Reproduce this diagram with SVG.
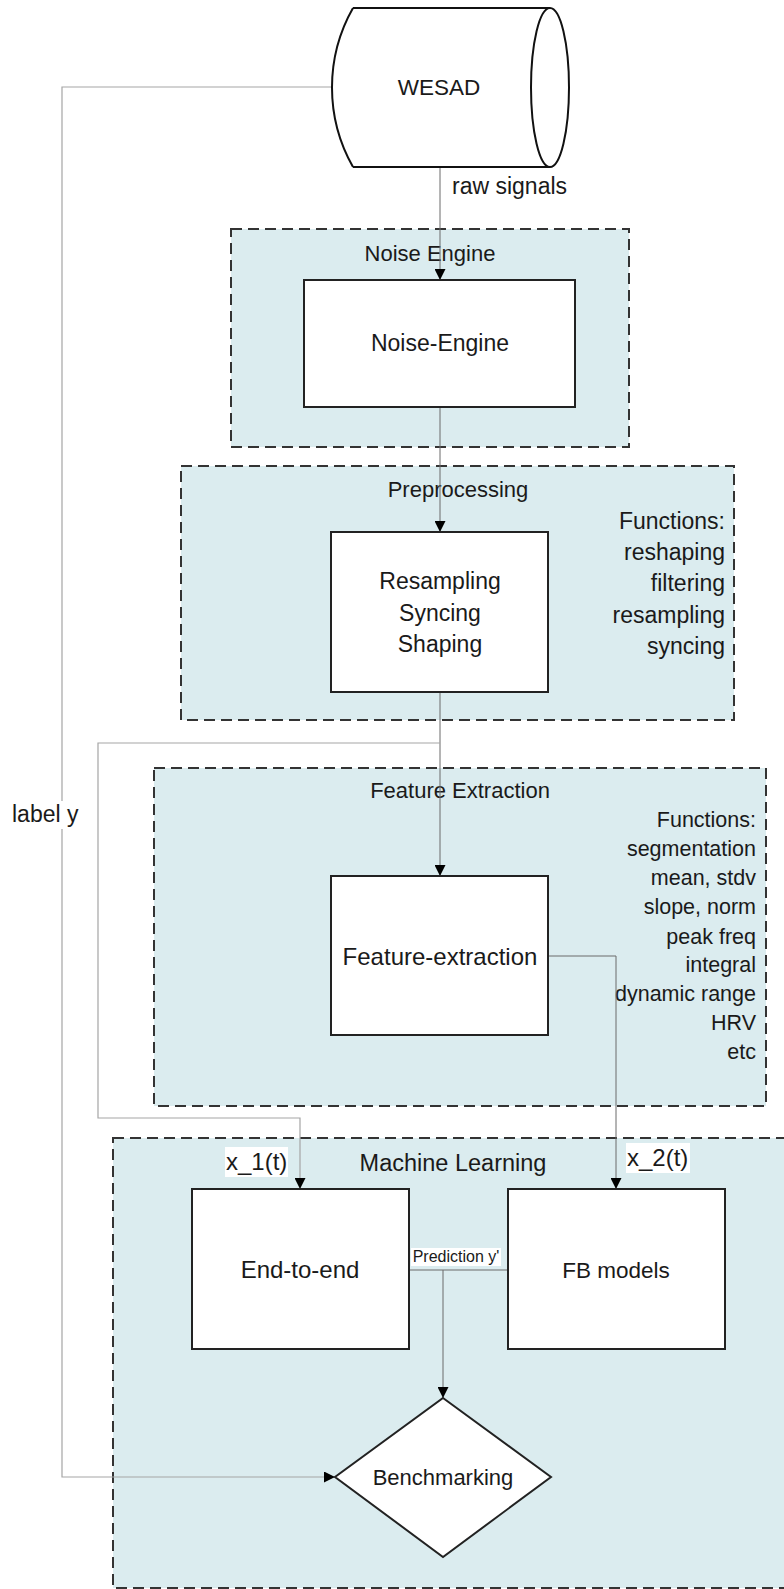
<svg xmlns="http://www.w3.org/2000/svg" width="784" height="1589" viewBox="0 0 784 1589">
<defs>
<marker id="arr" markerWidth="11" markerHeight="11" refX="11" refY="5.5" orient="auto" markerUnits="userSpaceOnUse">
<path d="M0,0 L11,5.5 L0,11 z" fill="#000"/>
</marker>
<style>
.t{font-family:"Liberation Sans",Arial,sans-serif;fill:#1a1a1a}
.c{text-anchor:middle}
.r{text-anchor:end}
.cont{fill:#dbecef;stroke:#333;stroke-width:2;stroke-dasharray:11,6}
.box{fill:#fff;stroke:#222;stroke-width:2}
.ln{fill:none;stroke:#6a6a6a;stroke-width:1}
.lt{fill:none;stroke:#a5a5a5;stroke-width:1.2}
.bg{fill:#fff}
</style>
</defs>
<rect width="784" height="1589" fill="#fff"/>

<g id="noise-engine-group">
<rect class="cont" x="231" y="229" width="398" height="218"/>
<text class="t c" x="430" y="261" font-size="22">Noise Engine</text>
</g>
<g id="preprocessing-group">
<rect class="cont" x="181" y="466" width="553" height="254"/>
<text class="t c" x="458" y="497" font-size="22">Preprocessing</text>
<text class="t r" x="725" y="529" font-size="23">Functions:</text>
<text class="t r" x="725" y="560" font-size="23">reshaping</text>
<text class="t r" x="725" y="591" font-size="23">filtering</text>
<text class="t r" x="725" y="623" font-size="23">resampling</text>
<text class="t r" x="725" y="654" font-size="23">syncing</text>
</g>
<g id="feature-extraction-group">
<rect class="cont" x="154" y="768" width="612" height="338"/>
<text class="t c" x="460" y="798" font-size="22">Feature Extraction</text>
<text class="t r" x="756" y="827" font-size="21.5">Functions:</text>
<text class="t r" x="756" y="856" font-size="21.5">segmentation</text>
<text class="t r" x="756" y="885" font-size="21.5">mean, stdv</text>
<text class="t r" x="756" y="914" font-size="21.5">slope, norm</text>
<text class="t r" x="756" y="944" font-size="21.5">peak freq</text>
<text class="t r" x="756" y="972" font-size="21.5">integral</text>
<text class="t r" x="756" y="1001" font-size="21.5">dynamic range</text>
<text class="t r" x="756" y="1030" font-size="21.5">HRV</text>
<text class="t r" x="756" y="1059" font-size="21.5">etc</text>
</g>
<g id="machine-learning-group">
<rect class="cont" x="113" y="1138" width="700" height="450"/>
<text class="t c" x="453" y="1171" font-size="23.5">Machine Learning</text>
</g>

<g id="connectors">
<path class="lt" d="M332,87 H62 V1477 H335" marker-end="url(#arr)"/>
<path class="ln" d="M440,167 V280" marker-end="url(#arr)"/>
<path class="ln" d="M440,407 V532" marker-end="url(#arr)"/>
<path class="ln" d="M440,692 V876" marker-end="url(#arr)"/>
<path class="lt" d="M440,743 H98 V1118 H300 V1189" marker-end="url(#arr)"/>
<path class="ln" d="M548,956 H616 V1189" marker-end="url(#arr)"/>
<path class="ln" d="M409,1270 H508"/>
<path class="ln" d="M443,1270 V1398" marker-end="url(#arr)"/>
<rect class="bg" x="449" y="177" width="119" height="25"/>
<text class="t" x="452" y="194" font-size="23">raw signals</text>
<rect class="bg" x="10" y="801" width="73" height="28"/>
<text class="t" x="12" y="822" font-size="23">label y</text>
<rect class="bg" x="225" y="1147" width="63" height="30"/>
<text class="t" x="226" y="1170" font-size="24">x_1(t)</text>
<rect class="bg" x="626" y="1143" width="64" height="30"/>
<text class="t" x="627" y="1166" font-size="24">x_2(t)</text>
<rect class="bg" x="411" y="1248" width="90" height="18"/>
<text class="t c" x="456" y="1262" font-size="16">Prediction y'</text>
</g>

<g id="wesad">
<path d="M353,8 H550 V167 H353 A161,161 0 0 1 353,8 Z" fill="#fff"/>
<path d="M353,8 H550 M353,167 H550 M353,8 A161,161 0 0 0 353,167" fill="none" stroke="#111" stroke-width="2"/>
<ellipse cx="550" cy="87.5" rx="19" ry="79.5" fill="#fff" stroke="#111" stroke-width="2"/>
<text class="t c" x="439" y="95" font-size="22.5">WESAD</text>
</g>
<g id="noise-engine">
<rect class="box" x="304" y="280" width="271" height="127"/>
<text class="t c" x="440" y="351" font-size="23">Noise-Engine</text>
</g>
<g id="resampling">
<rect class="box" x="331" y="532" width="217" height="160"/>
<text class="t c" x="440" y="589" font-size="23">Resampling</text>
<text class="t c" x="440" y="621" font-size="23">Syncing</text>
<text class="t c" x="440" y="652" font-size="23">Shaping</text>
</g>
<g id="feature-extraction">
<rect class="box" x="331" y="876" width="217" height="159"/>
<text class="t c" x="440" y="965" font-size="24">Feature-extraction</text>
</g>
<g id="end-to-end">
<rect class="box" x="192" y="1189" width="217" height="160"/>
<text class="t c" x="300" y="1278" font-size="24">End-to-end</text>
</g>
<g id="fb-models">
<rect class="box" x="508" y="1189" width="217" height="160"/>
<text class="t c" x="616" y="1278" font-size="22.5">FB models</text>
</g>
<g id="benchmarking">
<path class="box" d="M443,1398 L551,1477 L443,1557 L335,1477 Z"/>
<text class="t c" x="443" y="1485" font-size="22">Benchmarking</text>
</g>
</svg>
